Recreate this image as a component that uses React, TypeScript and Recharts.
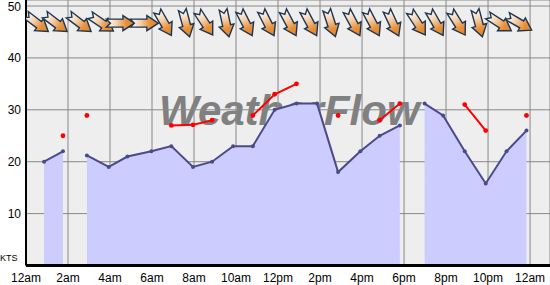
import React from "react";
import {
  ComposedChart,
  Area,
  Line,
  XAxis,
  YAxis,
  CartesianGrid,
} from "recharts";

// ---- data (hours after midnight) ----
const times = [0.86, 1.76, 2.9, 3.94, 4.83, 5.97, 6.92, 7.95, 8.86, 9.86, 10.8, 11.84, 12.88, 13.86, 14.86, 15.92, 16.84, 17.8, 18.98, 19.86, 20.89, 21.89, 22.88, 23.83];
const windSpeed = [20, 22, 21.2, 19, 21, 22, 23, 19, 20, 23, 23, 30, 31.2, 31.2, 18, 22, 25, 27, 31.2, 28.9, 22, 15.8, 22, 26];
const windGust: (number | null)[] = [null, 25, 28.9, null, null, null, 27, 27.1, 28, null, 28.9, 33, 35, null, 28.9, null, 28, 31.2, null, null, 31, 26, null, 28.9];
const windFrom = [307, 307, 307, 304, 270, 270, 330, 345, 327, 348, 333, 333, 332, 332, 342, 332, 332, 335, 327, 330, 328, 345, 303, 300];
// times where the record breaks (no reading)
const gapTimes = [2.3, 18.4];

const xTicks = [0, 2, 4, 6, 8, 10, 12, 14, 16, 18, 20, 22, 24];
const xTickLabels = ["12am", "2am", "4am", "6am", "8am", "10am", "12pm", "2pm", "4pm", "6pm", "8pm", "10pm", "12am"];
const yTicks = [0, 10, 20, 30, 40, 50];
const unitLabel = "KTS";
const watermark = "WeatherFlow";

const ARROW_LEVEL = 46.7;

type Row = { t: number; wind: number | null; gust: number | null; dir: number | null; arrow: number | null };
const rows: Row[] = [
  ...times.map((t, i) => ({ t, wind: windSpeed[i], gust: windGust[i], dir: windFrom[i], arrow: ARROW_LEVEL })),
  ...gapTimes.map((t) => ({ t, wind: null, gust: null, dir: null, arrow: null })),
].sort((a, b) => a.t - b.t);

const FONT = "'Liberation Sans', Arial, sans-serif";

const XTick = (props: any) => {
  const { x, payload } = props;
  const idx = xTicks.indexOf(payload.value);
  return (
    <text x={x} y={282} textAnchor="middle" fontSize={12} fontFamily={FONT} fill="#000">
      {xTickLabels[idx]}
    </text>
  );
};

const YTick = (props: any) => {
  const { y, payload } = props;
  if (payload.value === 0) {
    return (
      <text x={0} y={261} textAnchor="start" fontSize={9} fontFamily={FONT} fill="#000">
        {unitLabel}
      </text>
    );
  }
  return (
    <text x={21} y={y + 4.5} textAnchor="end" fontSize={12} fontFamily={FONT} fill="#000">
      {payload.value}
    </text>
  );
};

const ArrowDot = (props: any) => {
  const { cx, cy, payload, index } = props;
  if (payload == null || payload.dir == null || cx == null || cy == null) return <g key={`a${index}`} />;
  const rot = payload.dir + 90;
  return (
    <g key={`a${index}`} transform={`translate(${cx - 7},${cy}) rotate(${rot})`}>
      <polygon
        points="-14,-4 -10,0 -14,4 2.5,4 2.5,7.5 14,0 2.5,-7.5 2.5,-4"
        fill="url(#arrowGrad)"
        stroke="#1d3550"
        strokeWidth={1.4}
        strokeLinejoin="miter"
      />
    </g>
  );
};

const GustDot = (props: any) => {
  const { cx, cy, index, value } = props;
  if (value == null || cy == null) return <g key={`g${index}`} />;
  return <circle key={`g${index}`} cx={cx} cy={cy} r={2.4} fill="#ff0000" />;
};

export default function App() {
  return (
    <div style={{ position: "absolute", left: 0, top: 0, width: 550, height: 285, background: "#fff" }}>
      <div style={{ position: "absolute", left: 26, top: 0, width: 524, height: 265, background: "#eeeeee" }} />
      <svg style={{ position: "absolute", left: 0, top: 0 }} width={550} height={285}>
        <defs>
          <linearGradient id="wmLine" x1="0" x2="1" y1="0" y2="0">
            <stop offset="0%" stopColor="#bbbbbb" />
            <stop offset="100%" stopColor="#808080" />
          </linearGradient>
        </defs>
        <line x1={232} y1={92.5} x2={267} y2={92.5} stroke="url(#wmLine)" strokeWidth={2} strokeDasharray="2 1" />
        <line x1={326} y1={92.5} x2={358} y2={92.5} stroke="url(#wmLine)" strokeWidth={2} strokeDasharray="2 1" />
        <text
          x={159}
          y={125}
          fontSize={42}
          fontWeight="bold"
          fontStyle="italic"
          fontFamily={FONT}
          fill="#808080"
        >
          {watermark}
        </text>
      </svg>
      <div style={{ position: "absolute", left: 0, top: 0 }}>
        <ComposedChart width={550} height={285} data={rows} margin={{ top: 0, right: 0, bottom: 0, left: 0 }}>
          <defs>
            <linearGradient id="arrowGrad" x1="0" x2="1" y1="0" y2="0">
              <stop offset="0%" stopColor="#ffffff" />
              <stop offset="35%" stopColor="#f6d2ae" />
              <stop offset="70%" stopColor="#e8913a" />
              <stop offset="100%" stopColor="#e08428" />
            </linearGradient>
          </defs>
          <CartesianGrid stroke="#888888" strokeWidth={1} />
          <XAxis
            dataKey="t"
            type="number"
            domain={[0, 24.95]}
            ticks={xTicks}
            interval={0}
            height={19.5}
            tickLine={false}
            axisLine={{ stroke: "#000", strokeWidth: 3 }}
            tick={<XTick />}
            allowDataOverflow
          />
          <YAxis
            type="number"
            domain={[0, 51.16]}
            ticks={yTicks}
            interval={0}
            width={26}
            tickLine={false}
            axisLine={{ stroke: "#000", strokeWidth: 2 }}
            tick={<YTick />}
            allowDataOverflow
          />
          <Area
            dataKey="wind"
            type="linear"
            stroke="#4a4a8c"
            strokeWidth={2}
            fill="#ccccff"
            fillOpacity={1}
            connectNulls={false}
            dot={{ r: 2, fill: "#4a4a8c", stroke: "none" }}
            activeDot={false}
            isAnimationActive={false}
          />
          <Line
            dataKey="gust"
            type="linear"
            stroke="#ff0000"
            strokeWidth={2}
            connectNulls={false}
            dot={<GustDot />}
            activeDot={false}
            isAnimationActive={false}
          />
          <Line
            dataKey="arrow"
            type="linear"
            stroke="none"
            connectNulls={false}
            dot={<ArrowDot />}
            activeDot={false}
            isAnimationActive={false}
          />
        </ComposedChart>
      </div>
    </div>
  );
}
